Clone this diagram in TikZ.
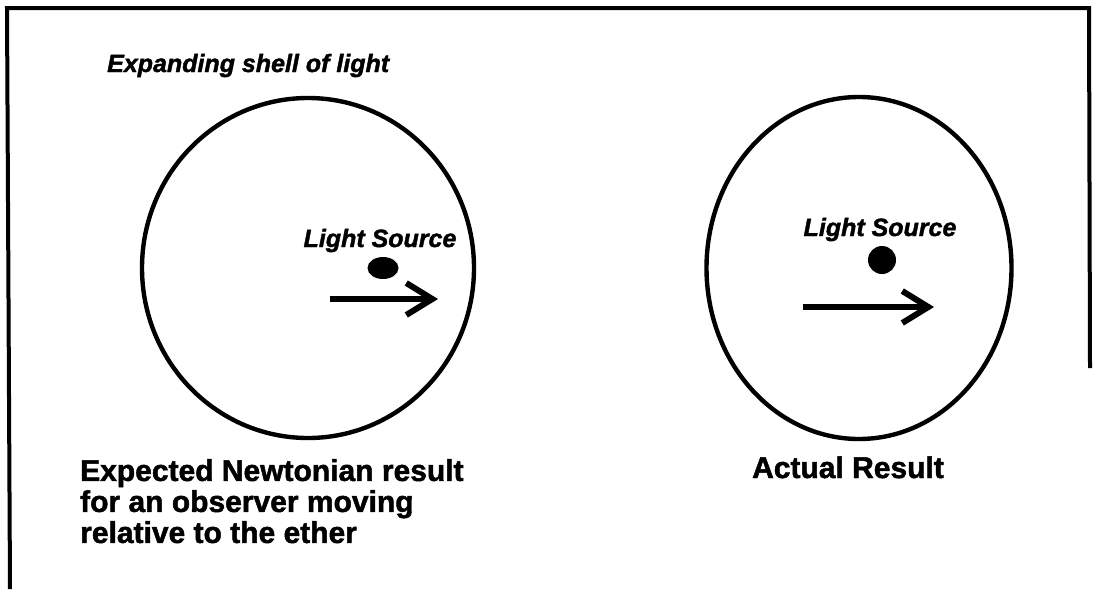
\documentclass[tikz,border=0pt]{standalone}
\usepackage{fontspec}
\setmainfont{Liberation Sans}
\newfontfamily\heavyface{Liberation Sans Bold}[FakeBold=1.6]
\newfontfamily\heavyslant{Liberation Sans Bold Italic}[FakeBold=1.6]
\usepackage{tikz}
\usetikzlibrary{arrows.meta,positioning,shapes.geometric}
\tikzset{
  frameline/.style={draw=black, line width=4pt},
  shell/.style={
    draw=black,
    ellipse,
    line width=4.4pt,
    inner sep=0pt
  },
  source/.style={fill=black, ellipse, inner sep=0pt},
  srclabel/.style={font=\fontsize{25}{28}\heavyslant, inner sep=0pt, anchor=base},
  caption/.style={font=\fontsize{30}{31}\heavyface, inner sep=0pt, align=left},
  motion/.style={-{Straight Barb[length=26pt, width=32pt]}, line width=6pt, draw=black}
}

\begin{document}
\begin{tikzpicture}[x=1pt, y=-1pt]
  \useasboundingbox (0,0) rectangle (1094,589);

  % open frame
  \coordinate (fbl) at (10,589);
  \coordinate (ftl) at (7,8);
  \coordinate (ftr) at (1089,8);
  \coordinate (fbr) at (1090,368);
  \draw[frameline] (fbl) -- (ftl) -- (ftr) -- (fbr);

  \node[srclabel, anchor=base west] (shelltitle) at (107,72) {Expanding shell of light};

  % Newtonian expectation
  \node[shell, minimum width=332pt, minimum height=340pt] (newtshell) at (308,268) {};
  \node[srclabel] (newtlabel) at (380,247) {Light Source};
  \node[source, minimum width=31pt, minimum height=22pt] (newtsrc) at (383,268) {};
  \coordinate (newtfrom) at (330,299);
  \coordinate (newtto) at (438,299);
  \draw[motion] (newtfrom) -- (newtto);
  \node[caption, anchor=north west] (newtcap) at (80,459)
    {Expected Newtonian result\\for an observer moving\\relative to the ether};

  % actual result
  \node[shell, minimum width=305pt, minimum height=342pt] (realshell) at (859,268) {};
  \node[srclabel] (reallabel) at (880,236) {Light Source};
  \node[source, circle, minimum size=28pt] (realsrc) at (882,260) {};
  \coordinate (realfrom) at (803,307);
  \coordinate (realto) at (934,307);
  \draw[motion] (realfrom) -- (realto);
  \node[caption, anchor=base] (realcap) at (848,478) {Actual Result};
\end{tikzpicture}
\end{document}
